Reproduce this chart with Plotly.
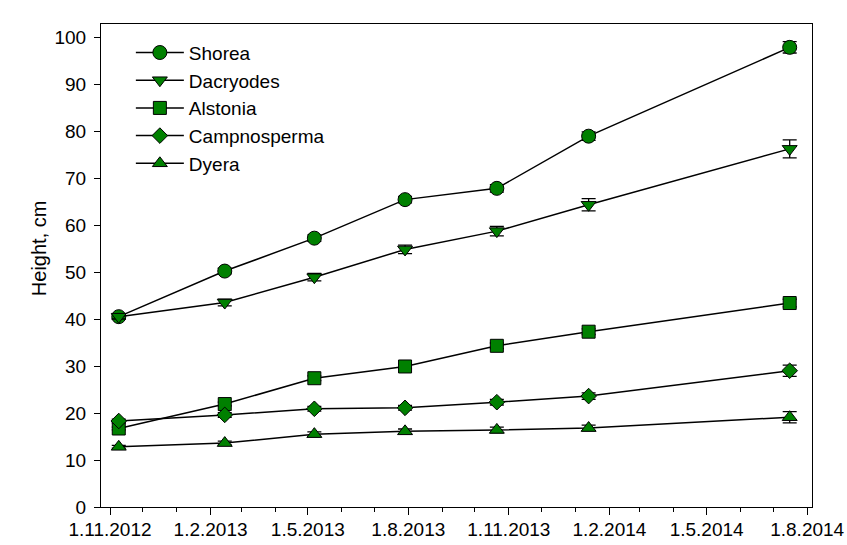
import plotly.graph_objects as go

dates = ["2012-11-09", "2013-02-14", "2013-05-07", "2013-07-29",
         "2013-10-21", "2014-01-13", "2014-07-16"]

shorea = [40.5, 50.2, 57.2, 65.4, 67.8, 78.9, 97.8]
shorea_err = [0.5, 0.6, 0.7, 0.7, 0.8, 0.9, 1.2]
dacryodes = [40.5, 43.5, 48.9, 54.8, 58.7, 64.3, 76.2]
dacryodes_err = [0.5, 0.7, 0.8, 0.9, 1.0, 1.3, 1.9]
alstonia = [16.7, 21.9, 27.4, 29.9, 34.3, 37.3, 43.4]
alstonia_err = [0.3, 0.4, 0.5, 0.5, 0.6, 0.6, 0.8]
campnosperma = [18.3, 19.6, 20.9, 21.1, 22.3, 23.6, 29.0]
campnosperma_err = [0.4, 0.5, 0.5, 0.5, 0.6, 0.7, 1.2]
dyera = [12.8, 13.6, 15.5, 16.1, 16.4, 16.8, 19.1]
dyera_err = [0.3, 0.4, 0.5, 0.5, 0.6, 0.6, 1.2]

series_names = ["Shorea", "Dacryodes", "Alstonia", "Campnosperma", "Dyera"]
series_values = [shorea, dacryodes, alstonia, campnosperma, dyera]
series_errors = [shorea_err, dacryodes_err, alstonia_err, campnosperma_err, dyera_err]
symbols = ["circle", "triangle-down", "square", "diamond", "triangle-up"]
sizes = [14, 13, 13, 12, 13]

tick_vals = ["2012-11-01", "2013-02-01", "2013-05-01", "2013-08-01",
             "2013-11-01", "2014-02-01", "2014-05-01", "2014-08-01"]
tick_text = ["1.11.2012", "1.2.2013", "1.5.2013", "1.8.2013",
             "1.11.2013", "1.2.2014", "1.5.2014", "1.8.2014"]
y_ticks = list(range(0, 101, 10))

FONT = "Liberation Sans, Arial, sans-serif"

fig = go.Figure()
for name, vals, errs, sym, sz in zip(series_names, series_values, series_errors, symbols, sizes):
    fig.add_trace(go.Scatter(
        x=dates, y=vals, name=name, mode="lines+markers",
        line=dict(color="black", width=1.5),
        marker=dict(symbol=sym, size=sz, color="#008000",
                    line=dict(color="black", width=1)),
        error_y=dict(type="data", array=errs, color="black",
                     thickness=1.3, width=7),
    ))

fig.update_layout(
    width=847, height=545,
    margin=dict(l=101, r=35, t=24, b=38, autoexpand=False),
    paper_bgcolor="white", plot_bgcolor="white",
    font=dict(family=FONT, size=19, color="black"),
    showlegend=True,
    legend=dict(x=0.042, y=0.98, xanchor="left", yanchor="top",
                bgcolor="rgba(0,0,0,0)", font=dict(size=19, family=FONT),
                itemwidth=48),
    annotations=[dict(text="Height, cm", textangle=-90, showarrow=False,
                      xref="paper", yref="paper",
                      x=-0.087, y=(507 - 248) / 483,
                      xanchor="center", yanchor="middle",
                      font=dict(size=20, family=FONT))],
)

fig.update_xaxes(
    type="date", automargin=False,
    range=["2012-10-23 18:00", "2014-08-05 10:00"],
    tickmode="array", tickvals=tick_vals, ticktext=tick_text,
    ticks="outside", ticklen=7, tickwidth=1, tickcolor="black",
    ticklabelstandoff=-2,
    showline=True, linecolor="black", linewidth=1, mirror=True,
    showgrid=False, zeroline=False,
    tickfont=dict(size=19, family=FONT),
    minor=dict(dtick="M1", tick0="2012-11-01", ticks="outside",
               ticklen=4, tickcolor="black", showgrid=False),
)
fig.update_yaxes(
    automargin=False,
    range=[0, 102.77],
    tickmode="array", tickvals=y_ticks,
    ticks="outside", ticklen=6, tickwidth=1, tickcolor="black",
    ticklabelstandoff=4,
    showline=True, linecolor="black", linewidth=1, mirror=True,
    showgrid=False, zeroline=False,
    tickfont=dict(size=19, family=FONT),
)

fig.write_html("out.html", config={"displayModeBar": False},
               post_script="document.body.style.margin='0px';document.body.style.padding='0px';")
